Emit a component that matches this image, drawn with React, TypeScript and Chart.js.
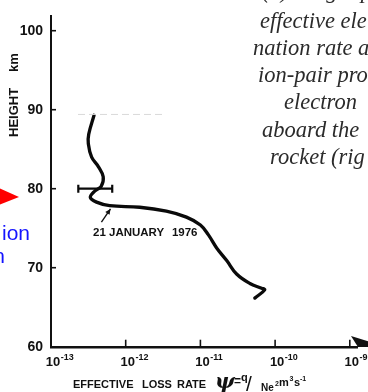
import React, { useEffect, useRef } from 'react';
import { Chart, registerables } from 'chart.js';

Chart.register(...registerables);

// Effective loss rate profile, 21 January 1976 (height in km, rate in m^3 s^-1)
const heightKm = [89.3, 86.9, 85.7, 84.0, 82.8, 81.5, 80.3, 79.7, 78.9, 78.3, 77.85, 77.65, 77.15, 76.4, 75.4, 74.15, 72.5, 70.9, 69.2, 68.0, 67.4, 67.2, 66.15];
const lossRate = [3.77e-13, 3.2e-13, 3.16e-13, 3.5e-13, 4.3e-13, 5.0e-13, 4.7e-13, 3.85e-13, 3.36e-13, 4.07e-13, 6.1e-13, 1.54e-12, 3.5e-12, 6.5e-12, 1.0e-11, 1.28e-11, 1.65e-11, 2.25e-11, 3.05e-11, 4.6e-11, 6.6e-11, 7.25e-11, 5.35e-11];

// Uncertainty bar at 80 km
const errorHeight = [80, 80];
const errorRate = [2.32e-13, 6.6e-13];

// Axis ticks
const heightTicks = [60, 70, 80, 90, 100];
const rateExponents = [-13, -12, -11, -10, -9];

const dateLabel = ['21 JANUARY', '1976'];
const captionLines = ['effective ele', 'nation rate a', 'ion-pair pro', 'electron', 'aboard the', 'rocket (rig'];

const SANS = '"Liberation Sans", Arial, sans-serif';

const decorations = {
  id: 'decorations',
  afterDraw(chart: any) {
    const { ctx, chartArea, scales } = chart;
    const xs = scales.x;
    const ys = scales.y;
    ctx.save();
    ctx.strokeStyle = '#111';
    ctx.fillStyle = '#111';
    ctx.textBaseline = 'alphabetic';

    const seg = (x1: number, y1: number, x2: number, y2: number) => {
      ctx.beginPath();
      ctx.moveTo(x1, y1);
      ctx.lineTo(x2, y2);
      ctx.stroke();
    };

    // inward tick marks
    ctx.lineWidth = 1.6;
    heightTicks.forEach((v) => {
      if (v === heightTicks[0]) return;
      const py = ys.getPixelForValue(v);
      seg(chartArea.left, py, chartArea.left + 5, py);
    });
    rateExponents.forEach((e) => {
      if (e === rateExponents[0]) return;
      const px = xs.getPixelForValue(Math.pow(10, e));
      seg(px, chartArea.bottom, px, chartArea.bottom - 7);
    });

    // x tick labels: 10 with raised exponent
    rateExponents.forEach((e) => {
      const px = xs.getPixelForValue(Math.pow(10, e)) + 2;
      ctx.font = `bold 13px ${SANS}`;
      ctx.textAlign = 'center';
      const w = ctx.measureText('10').width;
      ctx.fillText('10', px, 366);
      ctx.font = `bold 9px ${SANS}`;
      ctx.textAlign = 'left';
      ctx.fillText(String(e), px + w / 2 + 0.5, 360);
    });

    // arrow head at the end of the x axis
    ctx.beginPath();
    ctx.moveTo(351, 336);
    ctx.lineTo(370, 342);
    ctx.lineTo(370, 347);
    ctx.lineTo(358, 347);
    ctx.closePath();
    ctx.fill();

    // y axis title
    ctx.save();
    ctx.translate(18, 137);
    ctx.rotate(-Math.PI / 2);
    ctx.font = `bold 13px ${SANS}`;
    ctx.textAlign = 'left';
    ctx.fillText('HEIGHT', 0, 0);
    ctx.fillText('km', 65, 0);
    ctx.restore();

    // x axis title
    ctx.textAlign = 'left';
    ctx.font = `bold 11px ${SANS}`;
    ctx.fillText('EFFECTIVE', 73, 388);
    ctx.fillText('LOSS', 142, 388);
    ctx.fillText('RATE', 177, 388);
    ctx.font = `italic bold 21px "DejaVu Serif", serif`;
    ctx.fillText('ψ', 215, 388);
    ctx.font = `bold 12px ${SANS}`;
    ctx.fillText('=', 234, 385);
    ctx.font = `bold 11px ${SANS}`;
    ctx.fillText('q', 241, 381);
    ctx.font = `21px ${SANS}`;
    ctx.fillText('/', 246, 391);
    ctx.font = `bold 10px ${SANS}`;
    ctx.fillText('Ne', 261, 391);
    ctx.font = `bold 7px ${SANS}`;
    ctx.fillText('2', 275, 386);
    ctx.font = `bold 11px ${SANS}`;
    ctx.fillText('m', 279, 386);
    ctx.font = `bold 7px ${SANS}`;
    ctx.fillText('3', 289.5, 381);
    ctx.font = `bold 11px ${SANS}`;
    ctx.fillText('s', 294, 386);
    ctx.font = `bold 7px ${SANS}`;
    ctx.fillText('-1', 300, 381);

    // date annotation with pointer
    const tipX = xs.getPixelForValue(6.26e-13);
    const tipY = ys.getPixelForValue(77.44);
    const tailX = xs.getPixelForValue(4.73e-13);
    const tailY = ys.getPixelForValue(75.78);
    ctx.lineWidth = 1.4;
    seg(tailX, tailY, tipX, tipY);
    const ang = Math.atan2(tipY - tailY, tipX - tailX);
    ctx.beginPath();
    ctx.moveTo(tipX, tipY);
    ctx.lineTo(tipX - 6 * Math.cos(ang - 0.45), tipY - 6 * Math.sin(ang - 0.45));
    ctx.lineTo(tipX - 6 * Math.cos(ang + 0.45), tipY - 6 * Math.sin(ang + 0.45));
    ctx.closePath();
    ctx.fill();
    ctx.font = `bold 11.5px ${SANS}`;
    const labelY = ys.getPixelForValue(74.0);
    ctx.fillText(dateLabel[0], xs.getPixelForValue(3.65e-13), labelY);
    ctx.fillText(dateLabel[1], xs.getPixelForValue(1.08e-11) - 31, labelY);

    // faint rule at the top of the profile
    ctx.strokeStyle = '#d9d9d9';
    ctx.lineWidth = 1;
    ctx.setLineDash([7, 4]);
    const ruleY = ys.getPixelForValue(89.4);
    seg(78, ruleY, 163, ruleY);
    ctx.setLineDash([]);

    // surrounding caption text
    ctx.fillStyle = '#2b2b2b';
    ctx.font = `italic 22.5px "Liberation Serif", "Times New Roman", serif`;
    ctx.fillText('(b) Height profile of the', 262, -2);
    const starts = [260, 253, 258, 284, 262, 270];
    captionLines.forEach((t, i) => ctx.fillText(t, starts[i], 27.5 + i * 27.3));

    // red pointer and blue label fragments at the left edge
    ctx.fillStyle = '#ff0000';
    ctx.beginPath();
    ctx.moveTo(-1, 188);
    ctx.lineTo(19, 197);
    ctx.lineTo(-1, 205);
    ctx.closePath();
    ctx.fill();
    ctx.fillStyle = '#1414ff';
    ctx.font = `21px ${SANS}`;
    ctx.fillText('ion', 2, 240);
    ctx.textAlign = 'right';
    ctx.fillText('n', 5, 263);

    ctx.restore();
  },
};

export default function App() {
  const canvasRef = useRef<HTMLCanvasElement | null>(null);

  useEffect(() => {
    const canvas = canvasRef.current;
    if (!canvas) return;
    const chart = new Chart(canvas, {
      type: 'scatter',
      data: {
        datasets: [
          {
            data: lossRate.map((r, i) => ({ x: r, y: heightKm[i] })),
            showLine: true,
            borderColor: '#0a0a0a',
            borderWidth: 3.3,
            tension: 0.4,
            pointRadius: 0,
            borderCapStyle: 'round',
            borderJoinStyle: 'round',
          },
          {
            data: errorRate.map((r, i) => ({ x: r, y: errorHeight[i] })),
            showLine: true,
            borderColor: '#0a0a0a',
            borderWidth: 2.2,
            tension: 0,
            pointStyle: 'line',
            rotation: 90,
            pointRadius: 4,
            pointBorderWidth: 2.2,
            pointBorderColor: '#0a0a0a',
          },
        ],
      },
      options: {
        responsive: false,
        animation: false,
        devicePixelRatio: 1,
        layout: { padding: { left: 0, top: 7, right: 10.2, bottom: 25.3 } },
        plugins: {
          legend: { display: false },
          tooltip: { enabled: false },
        },
        scales: {
          x: {
            type: 'logarithmic',
            min: 1e-13,
            max: Math.pow(10, -8.893),
            afterBuildTicks: (scale: any) => {
              scale.ticks = rateExponents.map((e) => ({ value: Math.pow(10, e) }));
            },
            afterFit: (scale: any) => {
              scale.height = 20;
            },
            ticks: { display: false },
            grid: { display: false, drawTicks: false },
            border: { display: true, color: '#111', width: 2.4 },
          },
          y: {
            type: 'linear',
            min: 60,
            max: 101.81,
            afterBuildTicks: (scale: any) => {
              scale.ticks = heightTicks.map((v) => ({ value: v }));
            },
            afterFit: (scale: any) => {
              scale.width = 51;
            },
            ticks: {
              padding: 8,
              color: '#111',
              font: { family: SANS, size: 14, weight: 'bold' },
            },
            grid: { display: false, drawTicks: false },
            border: { display: true, color: '#111', width: 2 },
          },
        },
      },
      plugins: [decorations],
    } as any);
    return () => chart.destroy();
  }, []);

  return (
    <div style={{ position: 'fixed', left: 0, top: 0, width: 368, height: 392, background: '#fff' }}>
      <canvas ref={canvasRef} width={368} height={392} style={{ display: 'block' }} />
    </div>
  );
}
